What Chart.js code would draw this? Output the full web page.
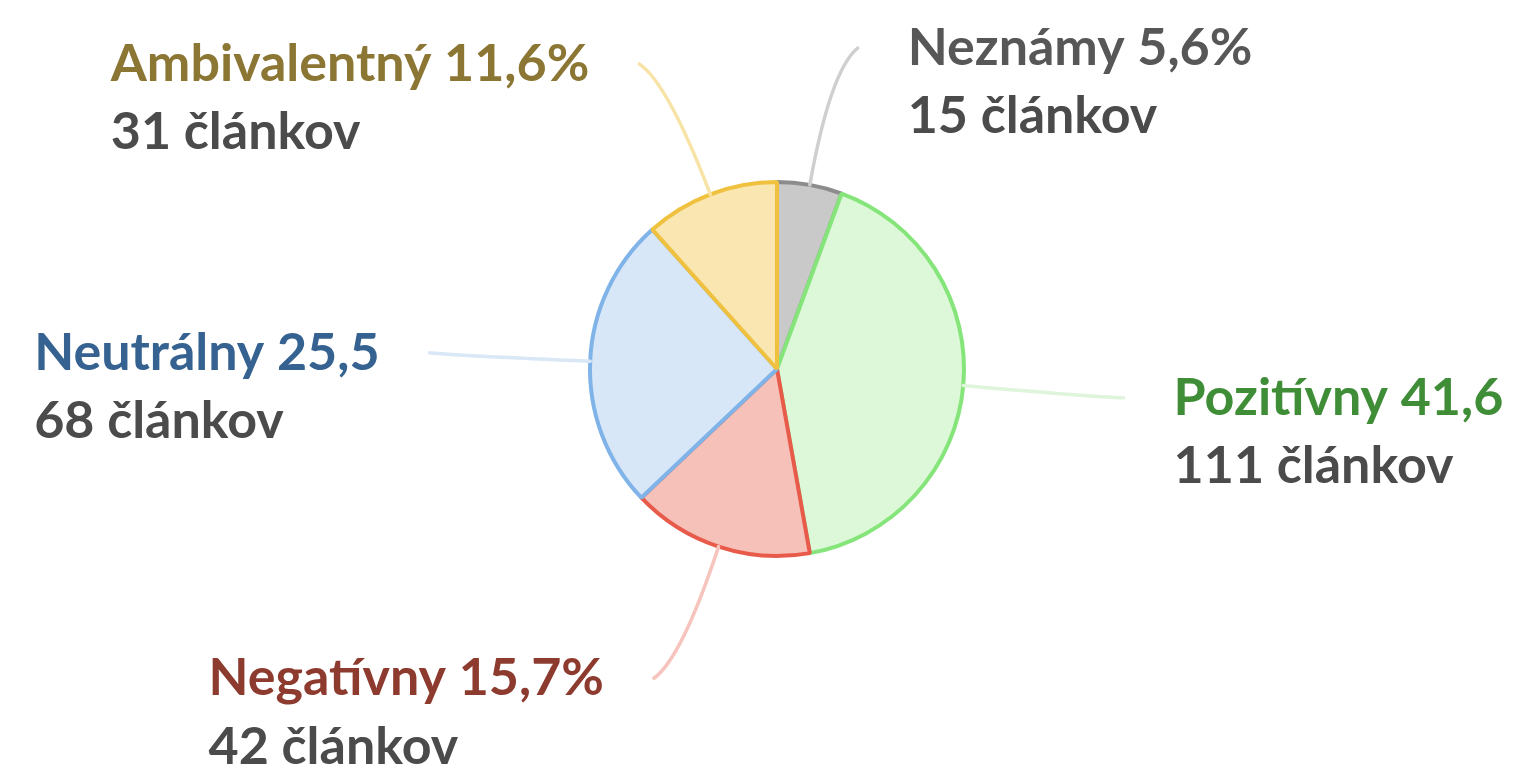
<!DOCTYPE html>
<html>
<head>
<meta charset="utf-8">
<script src="https://cdn.jsdelivr.net/npm/chart.js@4.4.1/dist/chart.umd.min.js"></script>
<style>
html,body{margin:0;padding:0;background:#fff;}
#wrap{position:relative;width:1519px;height:776px;}
</style>
</head>
<body>
<div id="wrap"><canvas id="c" width="1519" height="776"></canvas></div>
<script>
// ---- data ----
const categories = ['Neznámy', 'Pozitívny', 'Negatívny', 'Neutrálny', 'Ambivalentný'];
const articleCounts = [15, 111, 42, 68, 31];
const percentSuffix = ['%', '', '%', '', '%'];
const countUnit = 'článkov';

// ---- styles ----
const fillColors   = ['#c9c9c9', '#dcf8d8', '#f5c1b9', '#d8e7f7', '#f9e6b0'];
const borderColors = ['#8c8c8c', '#86e57a', '#e85b4b', '#80b4e8', '#efc13f'];
const leaderColors = ['#cfcfcf', '#dff5db', '#f6c4bd', '#d9e7f6', '#f8e3a6'];
const titleColors  = ['#575757', '#3f8e37', '#8e3b2f', '#356291', '#8c7634'];
const countColor = '#4b4b4b';
// label anchor placement: extra angle (deg) from slice middle, distance in radii, side
const labelLayout = [
  {shift: 4, dist: 1.77, side: 1},
  {shift: -0.3, dist: 1.86, side: 1},
  {shift: 3.5, dist: 1.78, side: -1},
  {shift: 0.3, dist: 1.86, side: -1},
  {shift: -3.4, dist: 1.79, side: -1}
];
const FONT_SIZE = 52;
const FONT = 'bold ' + FONT_SIZE + 'px Lato';

const total = articleCounts.reduce((a, b) => a + b, 0);
function pctText(i) {
  return (articleCounts[i] / total * 100).toFixed(1).replace('.', ',') + percentSuffix[i];
}

const labelPlugin = {
  id: 'curvedLabels',
  afterDatasetsDraw(chart) {
    const ctx = chart.ctx;
    const meta = chart.getDatasetMeta(0);
    meta.data.forEach((arc, i) => {
      const p = arc.getProps(['x', 'y', 'startAngle', 'endAngle', 'outerRadius'], true);
      const mid = (p.startAngle + p.endAngle) / 2;
      const R = p.outerRadius;
      const sx = p.x + Math.cos(mid) * R;
      const sy = p.y + Math.sin(mid) * R;
      const lay = labelLayout[i];
      const a2 = mid + lay.shift * Math.PI / 180;
      const ex = p.x + Math.cos(a2) * R * lay.dist;
      const ey = p.y + Math.sin(a2) * R * lay.dist;
      // control point: radial ray from start meeting horizontal through end
      const dx = Math.cos(mid), dy = Math.sin(mid);
      const L = Math.hypot(ex - sx, ey - sy);
      let t = Math.abs(dy) > 1e-3 ? (ey - sy) / dy : L * 0.8;
      if (!(t > 0) || t > L * 0.8) t = L * 0.8;
      const cx = sx + dx * t, cy = sy + dy * t;
      ctx.save();
      ctx.strokeStyle = leaderColors[i];
      ctx.lineWidth = 3.5;
      ctx.lineCap = 'round';
      ctx.beginPath();
      ctx.moveTo(sx, sy);
      ctx.quadraticCurveTo(cx, cy, ex, ey);
      ctx.stroke();

      ctx.font = FONT;
      ctx.textBaseline = 'alphabetic';
      ctx.textAlign = 'left';
      const title = categories[i] + ' ' + pctText(i);
      const sub = articleCounts[i] + ' ' + countUnit;
      const w = Math.max(ctx.measureText(title).width, ctx.measureText(sub).width);
      const gap = 50;
      const tx = lay.side > 0 ? ex + gap : ex - gap - w;
      const by = ey + FONT_SIZE * 0.33;
      ctx.fillStyle = titleColors[i];
      ctx.fillText(title, tx, by);
      ctx.fillStyle = countColor;
      ctx.fillText(sub, tx, by + FONT_SIZE * 1.31);
      ctx.restore();
    });
  }
};

new Chart(document.getElementById('c'), {
  type: 'pie',
  data: {
    labels: categories,
    datasets: [{
      data: articleCounts,
      backgroundColor: fillColors,
      borderColor: borderColors,
      borderWidth: 4,
      hoverOffset: 0
    }]
  },
  options: {
    responsive: false,
    animation: false,
    events: [],
    layout: {padding: {top: 180, bottom: 218, left: 400, right: 365}},
    plugins: {legend: {display: false}, tooltip: {enabled: false}}
  },
  plugins: [labelPlugin]
});
</script>
</body>
</html>
